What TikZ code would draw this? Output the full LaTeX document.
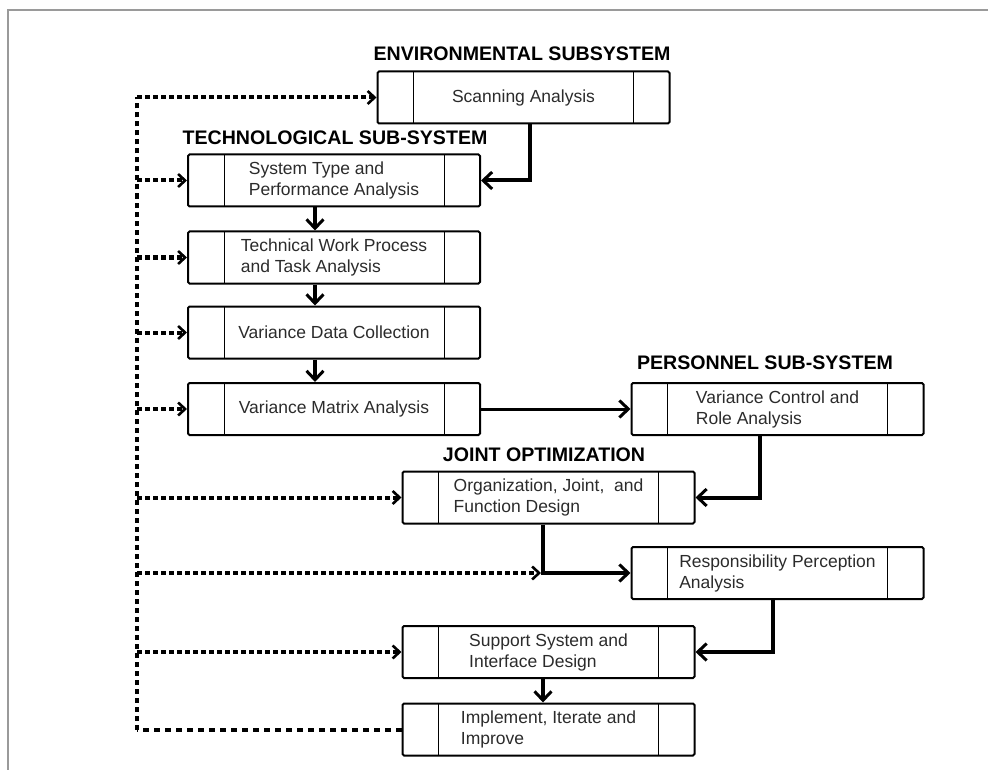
\documentclass[tikz,border=0pt]{standalone}
\usepackage{fontspec}
\setmainfont{Liberation Sans}
\usetikzlibrary{arrows.meta}
\definecolor{textgray}{HTML}{2B2B2B}
\definecolor{framegray}{HTML}{9A9A9A}
\begin{document}
\begin{tikzpicture}[x=1pt,y=-1pt,
  stage/.style={draw, line width=2pt, rounded corners=1.5pt,
    minimum width=292pt, minimum height=52pt, inner sep=0pt,
    align=left, text=textgray, font=\fontsize{17.5}{21}\selectfont,
    path picture={\draw[line width=1pt]
      ([xshift=36pt]path picture bounding box.north west) --
      ([xshift=36pt]path picture bounding box.south west)
      ([xshift=-36pt]path picture bounding box.north east) --
      ([xshift=-36pt]path picture bounding box.south east);}},
  heading/.style={font=\bfseries\fontsize{19.6}{22}\selectfont, text=black, inner sep=0pt},
  flow/.style={line width=4pt, -{Straight Barb[length=9pt,width=17pt,line width=3pt]}},
  thinflow/.style={line width=3pt, -{Straight Barb[length=9pt,width=17pt,line width=3pt]}},
  link/.style={line width=4pt},
  fbtip/.style={-{Straight Barb[length=7pt,width=13pt,line width=2.6pt]}},
  fbbranch/.style={line width=4pt, dash pattern=on 5pt off 3pt},
  fbtrunk/.style={line width=4pt, dash pattern=on 5pt off 4pt},
  fbbottom/.style={line width=4pt, dash pattern=on 6pt off 5pt},
]
\useasboundingbox (0,0) rectangle (988,770);

% page frame
\draw[framegray, line width=1.5pt] (8,770) -- (8,10) -- (988,10);

% headings
\node[heading] (hEnv)  at (522,54)  {ENVIRONMENTAL SUBSYSTEM};
\node[heading] (hTech) at (335,138) {TECHNOLOGICAL SUB-SYSTEM};
\node[heading] (hPers) at (765,363) {PERSONNEL SUB-SYSTEM};
\node[heading] (hJoint) at (544,455) {JOINT OPTIMIZATION};

% stages
\node[stage] (B1)  at (523.5,97.5) {Scanning Analysis};
\node[stage] (B2)  at (334,180.5)  {System Type and\\Performance Analysis};
\node[stage] (B3)  at (334,257.5)  {Technical Work Process\\and Task Analysis};
\node[stage] (B4)  at (334,332.5)  {Variance Data Collection};
\node[stage] (B5)  at (334,409)    {Variance Matrix Analysis};
\node[stage] (B6)  at (777.5,409)  {Variance Control and\\Role Analysis};
\node[stage] (B7)  at (548.5,497.5) {Organization, Joint,\ \ and\\Function Design};
\node[stage] (B8)  at (777.5,573)  {Responsibility Perception\\Analysis};
\node[stage] (B9)  at (548.5,652)  {Support System and\\Interface Design};
\node[stage] (B10) at (548.5,729.5) {Implement, Iterate and\\Improve};

% helper coordinates
\coordinate (trunk) at (137,0);
\coordinate (d1) at (530,0);
\coordinate (d2) at (315,0);
\coordinate (d6) at (760,0);
\coordinate (d7) at (543,0);
\coordinate (d8) at (773,0);
\coordinate (jn) at (d7 |- B8.west);

% main flow
\draw[flow] (d1 |- B1.south) |- (B2.east);
\draw[flow] (d2 |- B2.south) -- (d2 |- B3.north);
\draw[flow] (d2 |- B3.south) -- (d2 |- B4.north);
\draw[flow] (d2 |- B4.south) -- (d2 |- B5.north);
\draw[thinflow] (B5.east) -- (B6.west);
\draw[flow] (d6 |- B6.south) |- (B7.east);
\draw[link] (d7 |- B7.south) -- ([yshift=-2pt]jn);
\draw[flow] (jn) -- (B8.west);
\draw[flow] (d8 |- B8.south) |- (B9.east);
\draw[flow] (d7 |- B9.south) -- (d7 |- B10.north);

% feedback loop
\draw[fbbottom] (B10.west) -- (trunk |- B10.west);
\draw[fbtrunk] (trunk |- B10.west) -- (trunk |- B1.west);
\draw[fbbranch, fbtip] (trunk |- B1.west) -- (B1.west);
\foreach \b in {B2,B3,B4,B5,B7,B9}
  \draw[fbbranch, fbtip] (trunk |- \b.west) -- (\b.west);
\draw[fbbranch, fbtip] (trunk |- jn) -- ([xshift=-2pt]jn);
\end{tikzpicture}
\end{document}
